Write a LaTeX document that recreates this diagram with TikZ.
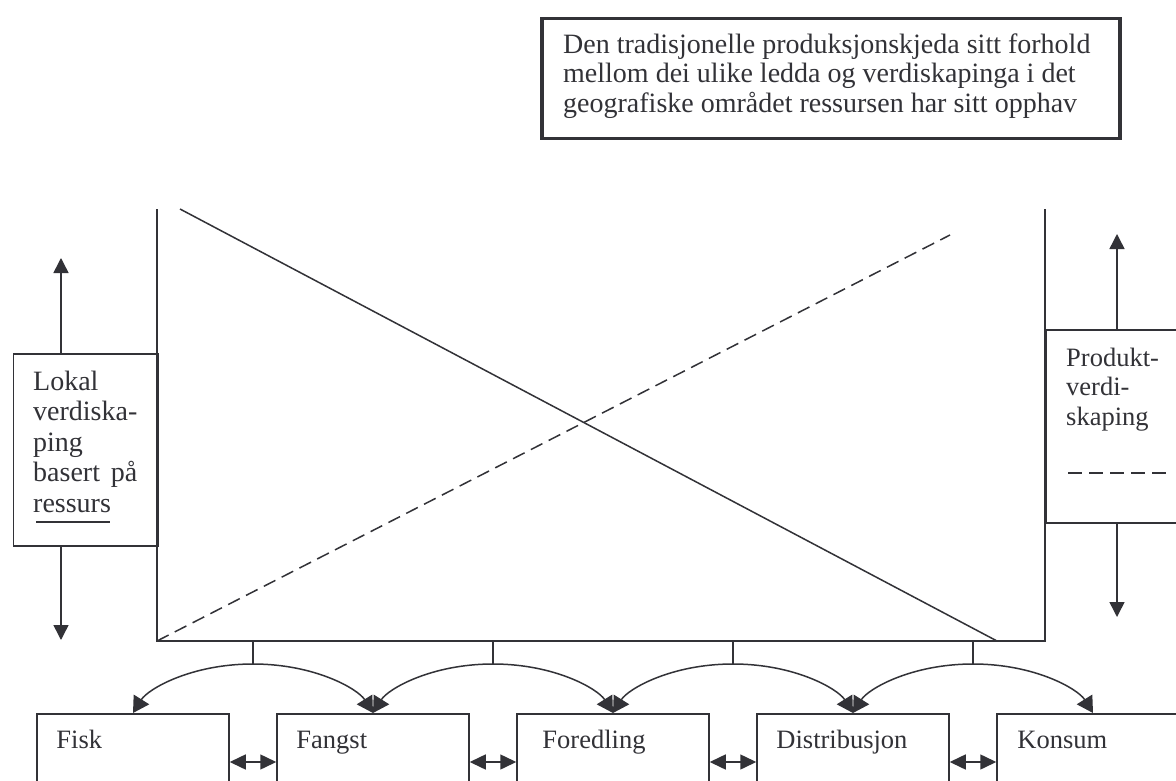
\documentclass[tikz,border=0pt]{standalone}
\usepackage{fontspec}
\setmainfont{Liberation Serif}
\usetikzlibrary{arrows.meta,calc}
\definecolor{ink}{RGB}{50,50,55}
\begin{document}
\begin{tikzpicture}[x=1pt,y=-1pt,
  ln/.style={draw=ink, line width=1.5pt},
  tip/.style={-{Triangle[width=15pt,length=15pt]}},
  atip/.style={-{Triangle[width=18pt,length=16pt]}},
  dtip/.style={{Triangle[width=15pt,length=16pt]}-{Triangle[width=15pt,length=16pt]}},
  txt/.style={font=\fontsize{26.5}{29.5}\selectfont, text=ink, inner sep=0pt, align=left},
  txth/.style={font=\fontsize{28}{29.5}\selectfont, text=ink, inner sep=0pt, align=left},
  txtl/.style={font=\fontsize{28}{30.5}\selectfont, text=ink, inner sep=0pt, align=left},
  box/.style={draw=ink, line width=1.5pt, inner sep=0pt, anchor=north west},
  bx/.style={draw=ink, line width=1.5pt, minimum width=192pt, minimum height=100pt, anchor=north, inner sep=0pt},
]
\useasboundingbox (0,0) rectangle (1176,781);
\fill[white] (0,0) rectangle (1176,781);
\clip (0,0) rectangle (1176,781);

% heading box
\node[box, line width=3.5pt, minimum width=578pt, minimum height=120pt] (head) at (540,17) {};
\node[txth, anchor=north west] (headtxt) at (563,32.35) {\strut Den tradisjonelle produksjonskjeda sitt forhold\\mellom dei ulike ledda og verdiskapinga i det\\geografiske området ressursen har sitt opphav};

% frame
\coordinate (fTL) at (157,209);
\coordinate (fBL) at (157,641);
\coordinate (fBR) at (1045,641);
\coordinate (fTR) at (1045,209);
\draw[ln] (fTL) -- (fBL) -- (fBR) -- (fTR);

% diagonals
\coordinate (dA) at (180,209);
\coordinate (dB) at (997,641);
\coordinate (dC) at (950,235);
\draw[ln] (dA) -- (dB);
\draw[ln, dash pattern=on 13pt off 7pt] (fBL) -- (dC);

% left box
\node[box, minimum width=144.5pt, minimum height=192pt] (lokal) at (12.5,353) {};
\node[txtl, anchor=north west] (lokaltxt) at ($(lokal.north west)+(20.5,15.65)$)
  {\strut Lokal\\verdiska-\\ping\\\makebox[104pt][s]{basert på}\\ressurs};
\draw[ln, line width=1.2pt] ($(lokal.north west)+(23.5,169)$) -- ($(lokal.north west)+(97.5,169)$);
\coordinate (lup) at (61,258);
\coordinate (ldn) at (61,640);
\draw[ln,tip] (lup |- lokal.north) -- (lup);
\draw[ln,tip] (ldn |- lokal.south) -- (ldn);

% right box
\node[box, minimum width=160pt, minimum height=193pt] (prod) at (1045,329) {};
\node[txt, anchor=north west] (prodtxt) at ($(prod.north west)+(21,16.35)$)
  {\strut Produkt-\\verdi-\\skaping};
\draw[ln, line width=1.2pt, dash pattern=on 14pt off 7pt] ($(prod.north west)+(23,144)$) -- ($(prod.north west)+(121,144)$);
\coordinate (rup) at (1117,234);
\coordinate (rdn) at (1117,617);
\draw[ln,tip] (rup |- prod.north) -- (rup);
\draw[ln,tip] (rdn |- prod.south) -- (rdn);

% bottom boxes
\node[bx] (b1) at (133,713) {};
\node[bx] (b2) at (373,713) {};
\node[bx] (b3) at (613,713) {};
\node[bx] (b4) at (853,713) {};
\node[bx] (b5) at (1093,713) {};
\node[txt, anchor=base west] (t1) at ($(b1.north west)+(20,35)$) {Fisk};
\node[txt, anchor=base west] (t2) at ($(b2.north west)+(20,35)$) {Fangst};
\node[txt, anchor=base west] (t3) at ($(b3.north west)+(26,35)$) {Foredling};
\node[txt, anchor=base west] (t4) at ($(b4.north west)+(20,35)$) {Distribusjon};
\node[txt, anchor=base west] (t5) at ($(b5.north west)+(21,35)$) {Konsum};

% double arrows between boxes
\draw[ln,dtip] ([yshift=-49pt]b1.north east) -- ([yshift=-49pt]b2.north west);
\draw[ln,dtip] ([yshift=-49pt]b2.north east) -- ([yshift=-49pt]b3.north west);
\draw[ln,dtip] ([yshift=-49pt]b3.north east) -- ([yshift=-49pt]b4.north west);
\draw[ln,dtip] ([yshift=-49pt]b4.north east) -- ([yshift=-49pt]b5.north west);

% ticks and arcs
\foreach \i/\x/\l/\r in {1/253/b1/b2, 2/493/b2/b3, 3/733/b3/b4, 4/973/b4/b5} {
  \coordinate (k\i) at (\x,664);
  \draw[ln] (k\i |- fBL) -- (k\i);
  \draw[ln,atip] (k\i) .. controls +(-62,0) and +(15,-24) .. (\l.north);
  \draw[ln,atip] (k\i) .. controls +(62,0) and +(-15,-24) .. (\r.north);
}
\end{tikzpicture}
\end{document}
